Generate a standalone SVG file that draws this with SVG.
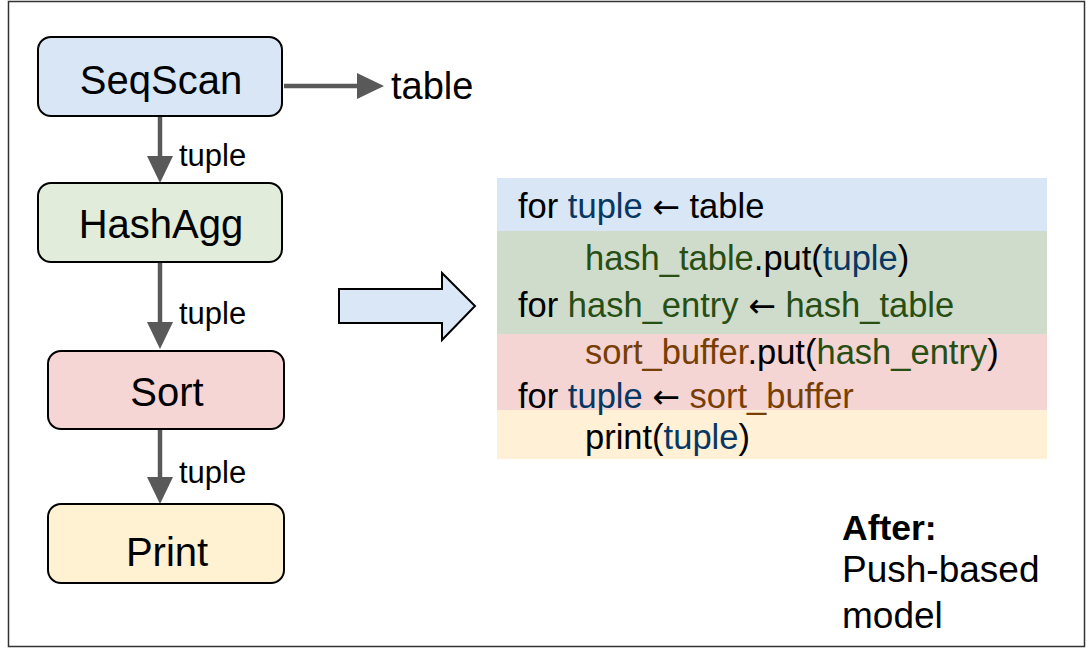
<svg xmlns="http://www.w3.org/2000/svg" width="1086" height="649" viewBox="0 0 1086 649">
<style>
text{font-family:"Liberation Sans",Arial,sans-serif;fill:#000}
.node rect{stroke:#000;stroke-width:2}
.nlabel{font-size:40px;text-anchor:middle}
.elabel{font-size:31px}
.conn{stroke:#595959;stroke-width:4.5;fill:none}
.code{font-size:34.5px}
.arr{font-family:"DejaVu Sans",sans-serif;font-size:33px}
.b{fill:#073763}
.g{fill:#274e13}
.o{fill:#783f04}
</style>
<defs>
<marker id="ah" markerUnits="userSpaceOnUse" markerWidth="28" markerHeight="28" refX="0" refY="13" orient="auto" viewBox="0 0 28 26">
<path d="M0,0 L27,13 L0,26 z" fill="#595959"/>
</marker>
</defs>
<rect x="8.5" y="1.5" width="1076" height="645" fill="#fff" stroke="#333" stroke-width="1.5"/>

<g id="connectors">
<line class="conn" x1="284" y1="86" x2="357" y2="86" marker-end="url(#ah)"/>
<line class="conn" x1="160" y1="116" x2="160" y2="156" marker-end="url(#ah)"/>
<line class="conn" x1="160" y1="262" x2="160" y2="322" marker-end="url(#ah)"/>
<line class="conn" x1="160" y1="429" x2="160" y2="477" marker-end="url(#ah)"/>
<text class="elabel" x="179" y="166">tuple</text>
<text class="elabel" x="179" y="324">tuple</text>
<text class="elabel" x="179" y="483">tuple</text>
</g>

<g id="node-seqscan" class="node">
<rect x="38" y="37" width="244" height="79" rx="13" fill="#d9e6f5"/>
<text class="nlabel" x="161" y="94">SeqScan</text>
</g>
<g id="node-hashagg" class="node">
<rect x="38" y="183" width="244" height="79" rx="13" fill="#e1ecda"/>
<text class="nlabel" x="161" y="238">HashAgg</text>
</g>
<g id="node-sort" class="node">
<rect x="48" y="351" width="236" height="78" rx="13" fill="#f5d6d5"/>
<text class="nlabel" x="167" y="406">Sort</text>
</g>
<g id="node-print" class="node">
<rect x="48" y="504" width="236" height="79" rx="13" fill="#fff2d2"/>
<text class="nlabel" x="167" y="566">Print</text>
</g>
<g id="node-table">
<text x="391" y="99" font-size="38">table</text>
</g>

<g id="block-arrow">
<polygon points="339,289 442,289 442,273 475,306 442,340 442,323 339,323" fill="#d9e7f6" stroke="#000" stroke-width="2" stroke-linejoin="miter"/>
</g>

<g id="code-panel">
<rect x="497" y="178" width="550" height="53" fill="#d8e6f5"/>
<rect x="497" y="231" width="550" height="103" fill="#cfdbcb"/>
<rect x="497" y="334" width="550" height="76" fill="#f4d5d4"/>
<rect x="497" y="410" width="550" height="49" fill="#fff0d6"/>
<text class="code" x="518" y="218">for <tspan class="b">tuple</tspan> <tspan class="arr">←</tspan> table</text>
<text class="code" x="585" y="270"><tspan class="g">hash_table</tspan>.put(<tspan class="b">tuple</tspan>)</text>
<text class="code" x="518" y="317">for <tspan class="g">hash_entry</tspan> <tspan class="arr">←</tspan> <tspan class="g">hash_table</tspan></text>
<text class="code" x="585" y="364"><tspan class="o">sort_buffer</tspan>.put(<tspan class="g">hash_entry</tspan>)</text>
<text class="code" x="518" y="408">for <tspan class="b">tuple</tspan> <tspan class="arr">←</tspan> <tspan class="o">sort_buffer</tspan></text>
<text class="code" x="585" y="449">print(<tspan class="b">tuple</tspan>)</text>
</g>

<g id="caption">
<text x="842" y="540" font-size="35.5" font-weight="bold">After:</text>
<text x="842" y="582" font-size="37">Push-based</text>
<text x="842" y="628" font-size="37">model</text>
</g>
</svg>
